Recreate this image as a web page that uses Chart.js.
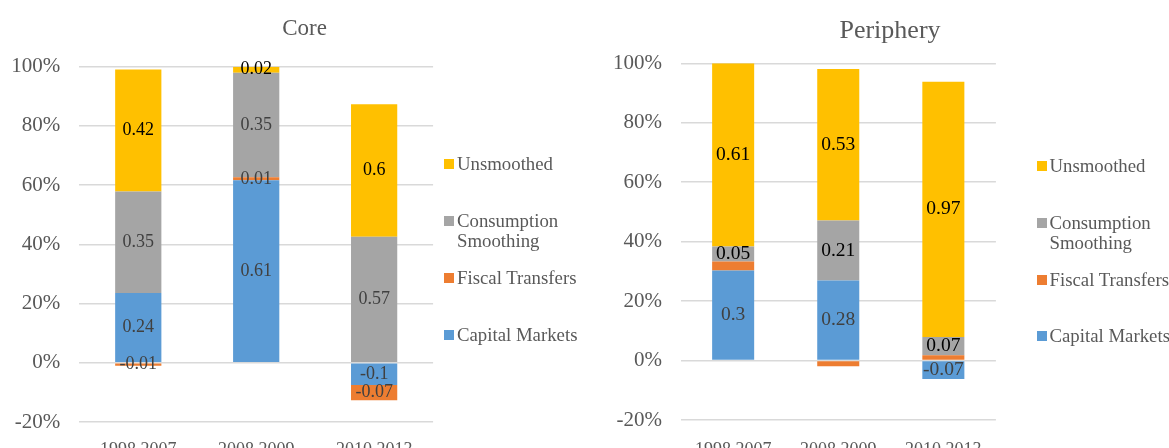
<!DOCTYPE html>
<html><head><meta charset="utf-8">
<script src="https://cdn.jsdelivr.net/npm/chart.js@4"></script>
<style>
html,body{margin:0;padding:0;width:1169px;height:448px;overflow:hidden;background:#fff;}
.wrap{position:absolute;top:0;}
canvas{display:block}
.leg{position:absolute;font-family:"Liberation Serif",serif;font-size:18.8px;color:#595959;line-height:20px;white-space:nowrap}
.sw{position:absolute;width:10px;height:10px;top:5px}
.tx{position:absolute;top:0}
</style></head><body>
<div class="wrap" style="left:0;width:609px;height:462px"><canvas id="c1" width="609" height="462"></canvas></div>
<div class="wrap" style="left:600px;width:580px;height:460px"><canvas id="c2" width="580" height="460"></canvas></div>
<div id="legends"></div>
<script>
// ---- data ----
const categories = ["1998 2007", "2008 2009", "2010 2013"];
const seriesNames = ["Capital Markets", "Fiscal Transfers", "Consumption Smoothing", "Unsmoothed"];
const legendLines = [["Capital Markets"], ["Fiscal Transfers"], ["Consumption", "Smoothing"], ["Unsmoothed"]];
const seriesColors = ["#5B9BD5", "#ED7D31", "#A5A5A5", "#FFC000"];
const yTickValues = [-0.2, 0, 0.2, 0.4, 0.6, 0.8, 1.0];

const coreCapital     = [0.24, 0.61, -0.1];
const coreFiscal      = [-0.01, 0.01, -0.07];
const coreConsumption = [0.35, 0.35, 0.57];
const coreUnsmoothed  = [0.42, 0.02, 0.6];

const periCapital     = [0.3, 0.28, -0.07];
const periFiscal      = [0.03, -0.02, 0.02];
const periConsumption = [0.05, 0.21, 0.07];
const periUnsmoothed  = [0.61, 0.53, 0.97];

// ---- helpers ----
const valueLabels = {
  id: 'valueLabels',
  afterDatasetsDraw(chart) {
    const ctx = chart.ctx;
    chart.data.datasets.forEach((ds, di) => {
      if (!ds.showLabels) return;
      const meta = chart.getDatasetMeta(di);
      meta.data.forEach((el, i) => {
        const v = ds.rawValues[i];
        if (v === null || v === undefined) return;
        const p = el.getProps(['x', 'y', 'base'], true);
        ctx.save();
        ctx.font = ds.labelFont;
        ctx.fillStyle = ds.labelColor;
        ctx.textAlign = 'center';
        ctx.textBaseline = 'middle';
        ctx.fillText(String(v), p.x, (p.y + p.base) / 2);
        ctx.restore();
      });
    });
  }
};

function makeChart(id, title, series, cfg) {
  // 100% stacked: each segment is its share of the sum of absolute values
  const absSum = categories.map((_, i) => series.reduce((s, arr) => s + Math.abs(arr[i]), 0));
  const datasets = series.map((arr, k) => ({
    label: seriesNames[k],
    data: arr.map((v, i) => v / absSum[i]),
    rawValues: arr,
    backgroundColor: seriesColors[k],
    borderWidth: 0,
    barPercentage: cfg.barPct,
    categoryPercentage: 1,
    showLabels: cfg.showLabels[k],
    labelColor: cfg.labelColors[k],
    labelFont: cfg.labelSize + 'px "Liberation Serif"'
  }));
  return new Chart(document.getElementById(id), {
    type: 'bar',
    data: { labels: categories, datasets },
    plugins: [valueLabels],
    options: {
      responsive: false,
      animation: false,
      layout: { padding: 0 },
      plugins: {
        legend: { display: false },
        tooltip: { enabled: false },
        title: {
          display: true, text: title, color: '#595959',
          font: { family: 'Liberation Serif', size: cfg.titleSize, weight: 'normal', lineHeight: 1.2 },
          padding: { top: cfg.titleTop, bottom: cfg.titleBottom }
        }
      },
      scales: {
        x: {
          stacked: true,
          grid: { display: false },
          border: { display: false },
          ticks: { color: '#595959', padding: cfg.xPad, font: { family: 'Liberation Serif', size: 18 } },
          afterFit(s) { s.height = 40; }
        },
        y: {
          stacked: true, min: -0.2, max: 1.0,
          afterBuildTicks(s) { s.ticks = yTickValues.map(v => ({ value: v })); },
          grid: { color: '#D9D9D9', lineWidth: 1.6, drawTicks: false },
          border: { display: false },
          ticks: {
            color: '#595959', padding: cfg.yPad,
            font: { family: 'Liberation Serif', size: 21 },
            callback: v => Math.round(v * 100) + '%'
          },
          afterFit(s) { s.width = cfg.yWidth; }
        },
        pad: {
          type: 'linear', position: 'right', display: true,
          grid: { display: false }, border: { display: false }, ticks: { display: false },
          afterFit(s) { s.width = cfg.rightSpace; }
        }
      }
    }
  });
}

makeChart('c1', 'Core', [coreCapital, coreFiscal, coreConsumption, coreUnsmoothed], {
  barPct: 0.392, titleSize: 23, titleTop: 14.8, titleBottom: 24.3,
  xPad: 9.3, yPad: 19.1, yWidth: 79.3, rightSpace: 175.9, labelSize: 18,
  showLabels: [true, true, true, true],
  labelColors: ['#404040', '#404040', '#404040', '#000000']
});
makeChart('c2', 'Periphery', [periCapital, periFiscal, periConsumption, periUnsmoothed], {
  barPct: 0.40, titleSize: 26, titleTop: 15.4, titleBottom: 16.7,
  xPad: 11.9, yPad: 18.5, yWidth: 80.6, rightSpace: 184.1, labelSize: 19.5,
  showLabels: [true, false, true, true],
  labelColors: ['#404040', '#404040', '#000000', '#000000']
});

// ---- HTML legends (reverse order, like the reference) ----
function makeLegend(swLeft, txLeft, firstCenter, step) {
  const host = document.getElementById('legends');
  const order = [3, 2, 1, 0];
  order.forEach((k, j) => {
    const item = document.createElement('div');
    item.className = 'leg';
    item.style.left = swLeft + 'px';
    item.style.top = (firstCenter + j * step - 10) + 'px';
    const sw = document.createElement('div');
    sw.className = 'sw';
    sw.style.left = '0px';
    sw.style.background = seriesColors[k];
    const tx = document.createElement('div');
    tx.className = 'tx';
    tx.style.left = (txLeft - swLeft) + 'px';
    tx.innerHTML = legendLines[k].join('<br>');
    item.appendChild(sw); item.appendChild(tx);
    host.appendChild(item);
  });
}
makeLegend(443.7, 457, 163.5, 57.2);
makeLegend(1036.6, 1049.5, 166.2, 56.7);
</script>
</body></html>
